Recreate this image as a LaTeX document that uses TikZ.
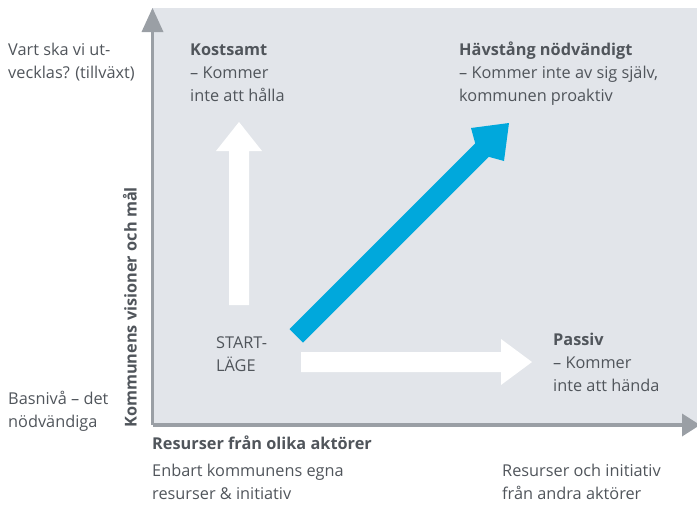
\documentclass[tikz,border=0pt]{standalone}
\usepackage{fontspec}
\setmainfont{Open Sans}
\begin{document}
\definecolor{panel}{HTML}{E2E5EA}
\definecolor{axisgray}{HTML}{9A9FA5}
\definecolor{txt}{HTML}{50555B}
\definecolor{flow}{HTML}{00A8DC}
% multi-line labels are placed by the baseline of their last line
\begin{tikzpicture}[x=1pt,y=-1pt,
  lbl/.style={anchor=base west,align=left,inner sep=0pt,text=txt,font=\fontsize{16.3}{23}\selectfont}]
\useasboundingbox (0,0) rectangle (697,504);
\clip (0,0) rectangle (697,504);
% quadrant background
\fill[panel] (152,8) rectangle (697,425);
% axes
\coordinate (o) at (152.5,425);
\coordinate (ytop) at (152.5,8);
\coordinate (xend) at (700,425);
\draw[axisgray,line width=3.5pt] (o) -- (152.5,30);
\draw[axisgray,line width=3.5pt] (o) -- (683,425);
\fill[axisgray] (ytop) -- (163.5,32) -- (141.5,32) -- cycle;
\fill[axisgray] (xend) -- (682,413.5) -- (682,436.5) -- cycle;
% white arrow upwards
\fill[white] (229,305) -- (249,305) -- (249,151) -- (262,151) -- (239,122) -- (216,151) -- (229,151) -- cycle;
% white arrow to the right
\fill[white] (301,352) -- (501,352) -- (501,339) -- (532,362) -- (501,385) -- (501,372) -- (301,372) -- cycle;
% blue diagonal arrow
\fill[flow] (289.5,329) -- (303,342.5) -- (488.7,156.8) -- (504,161) -- (509,123) -- (471,128) -- (475.2,143.3) -- cycle;
% texts
\node[lbl] (q1) at (8,78) {Vart ska vi ut-\\vecklas? (tillväxt)};
\node[lbl] (q2) at (190,101) {{\bfseries Kostsamt}\\– Kommer\\inte att hålla};
\node[lbl] (q3) at (459,101) {{\bfseries Hävstång nödvändigt}\\– Kommer inte av sig själv,\\kommunen proaktiv};
\node[lbl] (st) at (216,371) {START-\\LÄGE};
\node[lbl] (q4) at (553,391) {{\bfseries Passiv}\\– Kommer\\inte att hända};
\node[lbl] (bas) at (8,427) {Basnivå – det\\nödvändiga};
\node[text=txt,font=\fontsize{16.3}{18}\selectfont\bfseries,rotate=90,anchor=base west,inner sep=0pt] (yl) at (136.5,428) {Kommunens visioner och mål};
\node[lbl,font=\fontsize{16.3}{23}\selectfont\bfseries] (xl) at (152,449) {Resurser från olika aktörer};
\node[lbl] (xa) at (152,499) {Enbart kommunens egna\\resurser \& initiativ};
\node[lbl] (xb) at (502,499) {Resurser och initiativ\\från andra aktörer};
\end{tikzpicture}
\end{document}
